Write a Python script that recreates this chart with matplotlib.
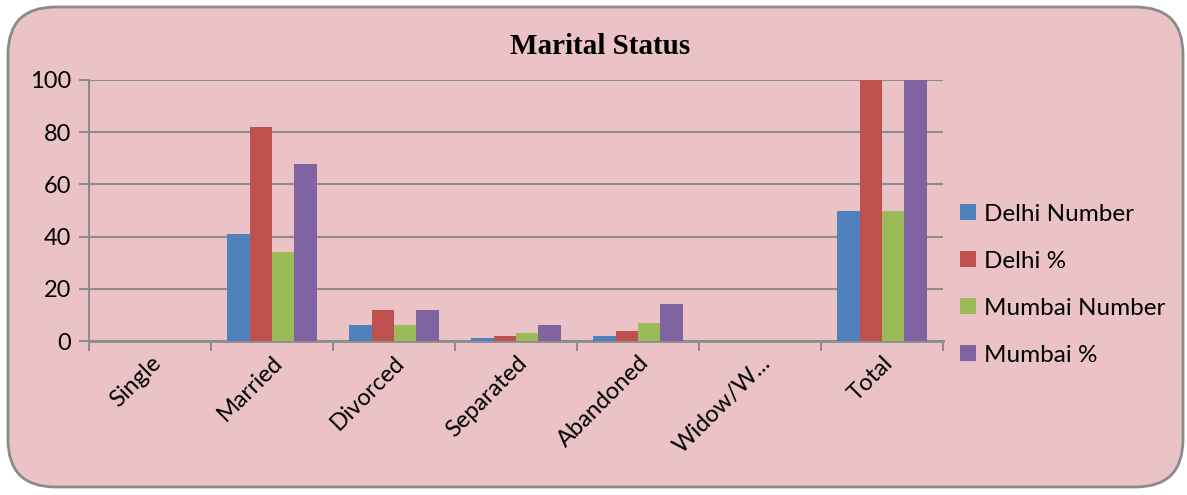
import matplotlib.pyplot as plt
import numpy as np
from matplotlib.patches import FancyBboxPatch, Patch
from matplotlib.ticker import FixedLocator

categories = ["Single", "Married", "Divorced", "Separated", "Abandoned", "Widow/W...", "Total"]
series_names = ["Delhi Number", "Delhi %", "Mumbai Number", "Mumbai %"]
delhi_number = [0, 41, 6, 1, 2, 0, 50]
delhi_pct = [0, 82, 12, 2, 4, 0, 100]
mumbai_number = [0, 34, 6, 3, 7, 0, 50]
mumbai_pct = [0, 68, 12, 6, 14, 0, 100]
yticks = [0, 20, 40, 60, 80, 100]

colors = ["#4f81bd", "#c0504d", "#9bbb59", "#8064a2"]
BG = "#ebc3c6"
GRID = "#8c8c8c"

plt.rcParams['font.family'] = ['Lato', 'DejaVu Sans']

fig = plt.figure(figsize=(11.87, 4.95), dpi=100)
fig.patch.set_facecolor("white")
frame = FancyBboxPatch((8/1187, 8/495), 1175/1187, 480/495,
                       boxstyle="round,pad=0,rounding_size=0.04",
                       transform=fig.transFigure, facecolor=BG,
                       edgecolor="#8a8a8a", linewidth=2, mutation_aspect=1187/495,
                       zorder=-5)
fig.patches.append(frame)

ax = fig.add_axes([89/1187, 1 - 341/495, (943-89)/1187, (341-80)/495])
ax.set_facecolor("none")

x = np.arange(len(categories))
w = 0.184
data = [delhi_number, delhi_pct, mumbai_number, mumbai_pct]
for i, vals in enumerate(data):
    ax.bar(x + (i - 1.5) * w, vals, w, color=colors[i], zorder=3, label=series_names[i])

ax.set_xlim(-0.5, len(categories) - 0.5)
ax.set_ylim(0, 100)
ax.set_yticks(yticks)
ax.yaxis.grid(True, color=GRID, linewidth=1.5, zorder=1)
ax.set_axisbelow(True)
for s in ["top", "right"]:
    ax.spines[s].set_visible(False)
ax.spines["left"].set_color(GRID)
ax.spines["left"].set_linewidth(1.5)
ax.spines["bottom"].set_color(GRID)
ax.spines["bottom"].set_linewidth(2)
ax.tick_params(axis="y", colors=GRID, length=7, width=1.5, direction="out", labelcolor="black", labelsize=17, pad=6)

ax.set_xticks(x)
ax.set_xticklabels(categories, rotation=45, ha="right", va="top", rotation_mode="anchor", fontsize=17)
ax.tick_params(axis="x", length=0, pad=8)
ax.xaxis.set_minor_locator(FixedLocator(np.arange(-0.5, len(categories), 1)))
ax.tick_params(axis="x", which="minor", length=7, width=1.5, color=GRID, direction="out")

handles = [Patch(facecolor=c) for c in colors]
fig.legend(handles, series_names, loc="upper left", bbox_to_anchor=(950/1187, 1 - 194/495),
           frameon=False, fontsize=17.5, handlelength=0.65, handleheight=0.65,
           handletextpad=0.35, labelspacing=1.07, borderaxespad=0)

fig.text(600/1187, 1 - 47/495, "Marital Status", ha="center", va="center",
         fontsize=21, fontweight="bold", family="Liberation Serif")

fig.savefig("out.png", dpi=100)
